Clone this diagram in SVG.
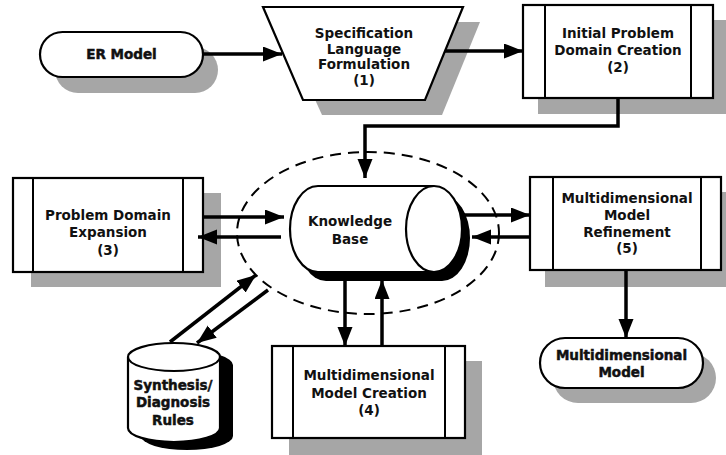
<svg xmlns="http://www.w3.org/2000/svg" width="726" height="455" viewBox="0 0 726 455">
  <style>
    .box { fill: #fff; stroke: #000; stroke-width: 2.2; }
    .bar { stroke: #000; stroke-width: 2; fill: none; }
    .shadow { fill: #a6a6a6; }
    .dark { fill: #000; }
    .lbl { font-family: "DejaVu Sans", "Liberation Sans", sans-serif; font-weight: bold; font-size: 13.5px; text-anchor: middle; fill: #111; }
    .heavy { stroke: #111; stroke-width: 0.5; }
    .conn { stroke: #000; stroke-width: 3.5; fill: none; }
    .ring { stroke: #000; stroke-width: 2; fill: none; stroke-dasharray: 11 7; }
  </style>
  <defs>
    <marker id="arrow" markerUnits="userSpaceOnUse" markerWidth="20" markerHeight="16" refX="19" refY="7.5" orient="auto">
      <path d="M0,0 L19,7.5 L0,15 z" fill="#000"/>
    </marker>
  </defs>

  <!-- dashed boundary round the knowledge base -->
  <ellipse class="ring" cx="368" cy="233" rx="131" ry="81"/>

  <g id="er-model">
    <rect class="shadow" x="55" y="47" width="163" height="46" rx="23"/>
    <rect class="box" x="40" y="32" width="163" height="45" rx="22.5"/>
    <text class="lbl heavy" x="121.5" y="59">ER Model</text>
  </g>

  <g id="spec-language">
    <polygon class="shadow" points="280,22 480,22 442,115 322,115"/>
    <polygon class="box" points="263,7 463,7 425,100 303,100"/>
    <text class="lbl" x="364" y="38">Specification</text>
    <text class="lbl" x="364" y="53.5">Language</text>
    <text class="lbl" x="364" y="69">Formulation</text>
    <text class="lbl" x="364" y="85">(1)</text>
  </g>

  <g id="initial-domain">
    <rect class="shadow" x="538" y="20" width="190" height="94"/>
    <rect class="box" x="523" y="5" width="190" height="93"/>
    <path class="bar" d="M545,5 V98 M691,5 V98"/>
    <text class="lbl" x="618" y="38">Initial Problem</text>
    <text class="lbl" x="618" y="55">Domain Creation</text>
    <text class="lbl" x="618" y="72">(2)</text>
  </g>

  <g id="domain-expansion">
    <rect class="shadow" x="31" y="193" width="190" height="94"/>
    <rect class="box" x="13" y="178" width="190" height="94"/>
    <path class="bar" d="M33,178 V272 M183,178 V272"/>
    <text class="lbl" x="108" y="220">Problem Domain</text>
    <text class="lbl" x="108" y="237">Expansion</text>
    <text class="lbl" x="108" y="255">(3)</text>
  </g>

  <g id="knowledge-base">
    <path class="dark" d="M442,195 L326,195 A28,43 0 0 0 326,281 L442,281 A28,43 0 0 0 442,195 z"/>
    <path class="box" d="M434,186 L318,186 A28,43 0 0 0 318,272 L434,272"/>
    <ellipse class="box" cx="434" cy="229" rx="28" ry="43"/>
    <text class="lbl" x="350" y="226">Knowledge</text>
    <text class="lbl" x="350" y="244">Base</text>
  </g>

  <g id="model-refinement">
    <rect class="shadow" x="545" y="192" width="191" height="95"/>
    <rect class="box" x="530" y="177" width="191" height="93"/>
    <path class="bar" d="M553,177 V270 M701,177 V270"/>
    <text class="lbl" x="627" y="203">Multidimensional</text>
    <text class="lbl" x="627" y="220">Model</text>
    <text class="lbl" x="627" y="237">Refinement</text>
    <text class="lbl" x="627" y="253">(5)</text>
  </g>

  <g id="model-creation">
    <rect class="shadow" x="289" y="361" width="193" height="94"/>
    <rect class="box" x="272" y="346" width="193" height="92"/>
    <path class="bar" d="M293,346 V438 M445,346 V438"/>
    <text class="lbl" x="369" y="380">Multidimensional</text>
    <text class="lbl" x="369" y="398">Model Creation</text>
    <text class="lbl" x="369" y="415">(4)</text>
  </g>

  <g id="synthesis-rules">
    <path class="dark" d="M141,365 A46,14 0 0 1 233,365 L233,436 A46,14 0 0 1 141,436 z"/>
    <path class="box" d="M128,357 A46,14 0 0 1 220,357 L220,428 A46,14 0 0 1 128,428 z"/>
    <path class="bar" d="M128,357 A46,14 0 0 0 220,357"/>
    <text class="lbl heavy" x="173" y="390">Synthesis/</text>
    <text class="lbl heavy" x="173" y="407">Diagnosis</text>
    <text class="lbl heavy" x="173" y="425">Rules</text>
  </g>

  <g id="multidim-model">
    <rect class="shadow" x="553" y="353" width="163" height="50" rx="25"/>
    <rect class="box" x="540" y="338" width="163" height="50" rx="25"/>
    <text class="lbl heavy" x="621.5" y="360">Multidimensional</text>
    <text class="lbl heavy" x="621.5" y="377">Model</text>
  </g>

  <g id="connectors">
    <line class="conn" x1="203" y1="54" x2="282" y2="54" marker-end="url(#arrow)"/>
    <line class="conn" x1="445" y1="51" x2="523" y2="51" marker-end="url(#arrow)"/>
    <polyline class="conn" points="618,98 618,126 365,126 365,178" marker-end="url(#arrow)"/>
    <line class="conn" x1="203" y1="217" x2="284" y2="217" marker-end="url(#arrow)"/>
    <line class="conn" x1="281" y1="237" x2="198" y2="237" marker-end="url(#arrow)"/>
    <line class="conn" x1="463" y1="215" x2="530" y2="215" marker-end="url(#arrow)"/>
    <line class="conn" x1="530" y1="237" x2="472" y2="237" marker-end="url(#arrow)"/>
    <line class="conn" x1="345" y1="272" x2="345" y2="346" marker-end="url(#arrow)"/>
    <line class="conn" x1="382" y1="346" x2="382" y2="280" marker-end="url(#arrow)"/>
    <line class="conn" x1="626" y1="270" x2="626" y2="338" marker-end="url(#arrow)"/>
    <line class="conn" x1="170" y1="342" x2="256" y2="275" marker-end="url(#arrow)"/>
    <line class="conn" x1="268" y1="290" x2="197" y2="343" marker-end="url(#arrow)"/>
  </g>
</svg>
